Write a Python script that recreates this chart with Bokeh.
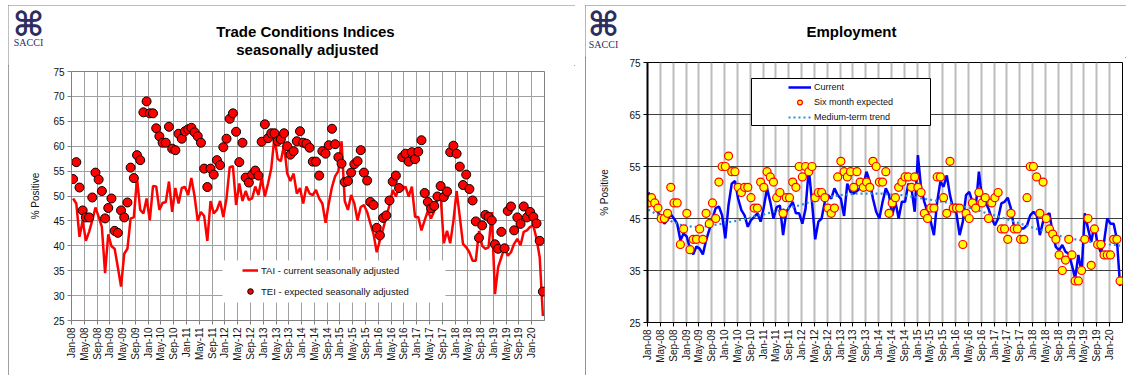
import numpy as np
from bokeh.plotting import figure
from bokeh.layouts import row, column
from bokeh.models import Range1d, FixedTicker, Legend, LegendItem, Label, BoxAnnotation
from bokeh.embed import file_html
from bokeh.resources import INLINE

# ---------------- data ----------------
tick_labels = ["Jan-08", "May-08", "Sep-08", "Jan-09", "May-09", "Sep-09", "Jan-10", "May-10",
               "Sep-10", "Jan-11", "May-11", "Sep-11", "Jan-12", "May-12", "Sep-12", "Jan-13",
               "May-13", "Sep-13", "Jan-14", "May-14", "Sep-14", "Jan-15", "May-15", "Sep-15",
               "Jan-16", "May-16", "Sep-16", "Jan-17", "May-17", "Sep-17", "Jan-18", "May-18",
               "Sep-18", "Jan-19", "May-19", "Sep-19", "Jan-20"]

# Trade Activity Index (current, seasonally adjusted), Jan-08 .. Apr-20
tai = [49.5, 48.5, 41.8, 45.1, 41.0, 42.8, 45.1, 47.7, 45.8, 43.8,
       34.5, 42.3, 39.9, 39.4, 35.7, 31.8, 38.4, 39.4, 45.5, 45.7,
       53.6, 47.2, 46.5, 49.5, 45.1, 52.0, 51.9, 47.2, 48.6, 48.8,
       52.9, 46.8, 51.6, 48.5, 51.6, 51.8, 50.2, 53.6, 50.0, 45.0,
       46.8, 46.0, 41.0, 49.0, 46.5, 47.2, 49.0, 45.8, 49.5, 55.8,
       56.0, 48.2, 52.5, 49.0, 51.0, 49.2, 49.5, 51.9, 50.2, 53.6,
       49.9, 52.5, 55.5, 61.8, 57.5, 57.0, 60.3, 54.5, 53.0, 54.5,
       50.5, 51.6, 48.5, 51.9, 50.5, 50.2, 51.2, 49.5, 48.5, 44.6,
       48.5, 51.8, 54.0, 55.0, 61.0, 49.0, 47.2, 50.2, 48.5, 45.1,
       47.8, 48.2, 46.8, 44.5, 42.4, 38.7, 41.1, 43.4, 45.8, 48.2,
       51.2, 49.9, 51.9, 51.2, 51.9, 49.9, 51.9, 45.8, 45.8, 43.1,
       45.1, 47.0, 45.5, 47.0, 49.2, 50.0, 40.5, 43.0, 40.5, 45.0,
       51.0, 45.8, 40.4, 39.7, 38.7, 37.0, 37.0, 43.0, 40.0, 39.4,
       39.7, 46.8, 30.3, 35.7, 37.7, 39.7, 38.0, 38.7, 40.4, 41.4,
       40.1, 42.8, 43.1, 43.8, 44.1, 41.4, 37.7, 25.9]

# Trade Expectations Index (expected, seasonally adjusted)
tei = [53.4, 56.8, 51.7, 47.1, 45.7, 45.7, 49.7, 54.7, 53.3, 51.0,
       45.5, 47.6, 49.5, 43.0, 42.6, 47.1, 45.7, 48.7, 55.7, 53.6,
       58.2, 57.2, 66.8, 69.0, 66.6, 66.6, 63.6, 62.0, 60.7, 60.7,
       63.9, 59.5, 59.2, 62.5, 61.5, 63.0, 63.4, 63.7, 62.8, 62.0,
       60.7, 55.5, 51.8, 55.5, 54.3, 57.2, 56.2, 59.8, 61.5, 65.5,
       66.6, 62.9, 56.8, 60.7, 53.7, 52.7, 54.3, 55.1, 54.1, 60.9,
       64.4, 61.6, 62.6, 62.6, 61.0, 61.4, 62.6, 60.0, 58.3, 59.0,
       61.0, 63.0, 60.7, 60.5, 59.7, 56.9, 56.9, 54.1, 59.0, 58.5,
       60.2, 63.5, 60.4, 57.8, 56.5, 52.8, 53.0, 54.7, 56.4, 57.0,
       59.2, 54.7, 53.1, 48.8, 48.2, 43.6, 42.1, 45.6, 46.1, 49.1,
       52.9, 54.1, 51.6, 57.8, 58.5, 56.9, 58.8, 57.4, 58.9, 61.2,
       50.6, 48.8, 47.5, 48.0, 49.9, 52.0, 49.8, 50.9, 58.8, 60.1,
       58.5, 55.9, 52.2, 54.3, 51.4, 49.1, 44.9, 41.6, 44.1, 46.2,
       45.8, 45.1, 40.3, 39.4, 42.8, 39.5, 47.0, 47.9, 43.1, 45.7,
       44.4, 47.9, 45.7, 46.8, 45.8, 44.5, 41.0, 30.8]

# Employment - current
emp_current = [50.0, 49.0, 47.2, 46.2, 45.0, 44.0, 44.7, 45.8, 45.0, 44.0,
               40.8, 42.1, 41.5, 39.2, 38.1, 39.6, 39.2, 38.1, 40.8, 42.8,
               45.0, 47.0, 47.3, 45.6, 41.2, 47.6, 51.7, 52.2, 48.8, 46.6,
               45.6, 43.4, 44.7, 45.3, 46.0, 44.4, 47.2, 50.8, 48.2, 45.0,
               47.2, 47.5, 41.8, 46.3, 47.2, 48.2, 46.0, 46.0, 44.0, 46.9,
               54.6, 48.2, 41.0, 44.4, 45.0, 48.2, 49.5, 48.8, 50.8, 49.5,
               48.8, 45.5, 51.7, 50.1, 49.8, 50.3, 50.8, 51.4, 54.0, 52.1,
               48.8, 46.3, 45.0, 48.2, 50.8, 49.5, 45.6, 48.2, 45.0, 48.2,
               48.2, 51.7, 50.8, 46.3, 57.2, 50.8, 48.2, 46.3, 44.4, 41.8,
               48.2, 52.1, 51.1, 53.3, 49.5, 46.9, 46.0, 41.8, 44.4, 49.5,
               50.1, 48.2, 46.9, 54.0, 48.8, 48.2, 46.9, 45.0, 43.7, 45.0,
               47.9, 48.2, 49.0, 46.9, 43.1, 43.1, 43.1, 43.1, 43.7, 45.6,
               46.3, 45.6, 41.8, 44.4, 45.6, 46.0, 42.0, 39.5, 38.9, 39.9,
               38.6, 38.2, 36.0, 33.5, 38.0, 34.7, 46.0, 43.1, 40.5, 43.7,
               40.0, 38.5, 40.5, 45.0, 44.0, 44.0, 41.0, 32.0]

# Employment - six month expected
emp_expected = [48, 49, 48, 47, 45, 45, 46, 51, 48, 48,
                40, 43, 46, 39, 41, 41, 43, 41, 46, 44,
                48, 45, 52, 55, 55, 57, 54, 54, 51, 50,
                51, 51, 49, 47, 47, 52, 51, 54, 53, 52,
                49, 50, 46, 49, 49, 52, 51, 55, 53, 55,
                54, 55, 49, 50, 50, 49, 47, 46, 47, 53,
                56, 54, 53, 54, 51, 54, 52, 51, 52, 51,
                56, 55, 52, 52, 54, 46, 48, 49, 51, 52,
                53, 53, 51, 53, 51, 50, 46, 45, 47, 47,
                53, 53, 49, 46, 56, 47, 47, 47, 40, 46,
                45, 48, 47, 50, 48, 49, 45, 48, 49, 50,
                43, 43, 41, 46, 43, 43, 41, 41, 49, 55,
                55, 53, 46, 52, 45, 43, 42, 41, 38, 35,
                37, 41, 38, 33, 33, 35, 41, 45, 36, 43,
                40, 40, 38, 38, 38, 41, 41, 33]

# Employment - medium-term trend
emp_trend = [46.7, 46.4, 46.0, 45.7, 45.4, 45.1, 44.8, 44.5, 44.2, 44.0,
             43.8, 43.7, 43.6, 43.5, 43.4, 43.4, 43.4, 43.4, 43.5, 43.6,
             43.7, 43.8, 43.9, 44.0, 44.2, 44.3, 44.4, 44.5, 44.6, 44.8,
             44.9, 45.0, 45.2, 45.4, 45.5, 45.7, 45.8, 46.0, 46.1, 46.3,
             46.4, 46.6, 46.7, 46.9, 47.0, 47.2, 47.4, 47.5, 47.7, 47.9,
             48.1, 48.3, 48.5, 48.7, 48.8, 49.0, 49.1, 49.2, 49.3, 49.4,
             49.5, 49.6, 49.6, 49.7, 49.7, 49.8, 49.8, 49.8, 49.8, 49.8,
             49.8, 49.8, 49.8, 49.8, 49.7, 49.7, 49.6, 49.6, 49.5, 49.5,
             49.4, 49.3, 49.2, 49.1, 49.0, 48.9, 48.8, 48.7, 48.6, 48.5,
             48.4, 48.3, 48.2, 48.1, 48.0, 47.9, 47.7, 47.6, 47.4, 47.2,
             47.1, 46.9, 46.7, 46.5, 46.3, 46.1, 45.9, 45.7, 45.6, 45.4,
             45.2, 45.0, 44.8, 44.6, 44.4, 44.2, 44.0, 43.8, 43.6, 43.4,
             43.2, 43.0, 42.8, 42.6, 42.4, 42.2, 42.0, 41.8, 41.7, 41.5,
             41.4, 41.2, 41.1, 41.0, 40.9, 40.8, 40.7, 40.6, 40.5, 40.4,
             40.3, 40.2, 40.1, 40.0, 40.0, 39.9, 39.9, 39.8]

for s in (tai, tei, emp_current, emp_expected, emp_trend):
    assert len(s) == 148, len(s)

n = len(tai)
idx = np.arange(n)
tick_pos = [4.0 * i for i in range(len(tick_labels))]
overrides = {t: lab for t, lab in zip(tick_pos, tick_labels)}

FONT = "Liberation Sans"
NAVY = "#2e2d62"


def style_axes(p, yticks, grid_h_color, grid_h_width, grid_v_color, grid_v_width,
               axis_color, outline_color, ylabel_standoff):
    p.xaxis.ticker = FixedTicker(ticks=tick_pos)
    p.xaxis.major_label_overrides = overrides
    p.xaxis.major_label_orientation = np.pi / 2
    p.yaxis.ticker = FixedTicker(ticks=yticks)
    p.xgrid.ticker = FixedTicker(ticks=tick_pos)
    p.ygrid.ticker = FixedTicker(ticks=yticks)
    p.xgrid.grid_line_color = grid_v_color
    p.xgrid.grid_line_width = grid_v_width
    p.ygrid.grid_line_color = grid_h_color
    p.ygrid.grid_line_width = grid_h_width
    for ax in (p.xaxis, p.yaxis):
        ax.minor_tick_line_color = None
        ax.major_tick_out = 4
        ax.major_tick_in = 0
        ax.major_tick_line_color = axis_color
        ax.axis_line_color = axis_color
        ax.major_label_text_font = FONT
        ax.major_label_text_font_size = "10px"
        ax.major_label_text_color = "#111111"
        ax.major_label_standoff = 3
    p.yaxis.axis_label = "% Positive"
    p.yaxis.axis_label_text_font = FONT
    p.yaxis.axis_label_text_font_size = "10px"
    p.yaxis.axis_label_text_font_style = "normal"
    p.yaxis.axis_label_text_color = "#111111"
    p.yaxis.axis_label_standoff = ylabel_standoff
    p.outline_line_color = outline_color
    p.outline_line_width = 1
    p.background_fill_color = "white"
    p.border_fill_color = "white"


def header(width, height, titles, logo_xy, sacci_xy):
    h = figure(width=width, height=height, x_range=Range1d(0, width), y_range=Range1d(height, 0),
               output_backend="svg", toolbar_location=None, title=None,
               x_axis_location=None, y_axis_location=None,
               min_border=0, min_border_left=0, min_border_right=0,
               min_border_top=0, min_border_bottom=0, frame_align=False)
    h.grid.visible = False
    h.outline_line_color = None
    h.background_fill_color = "white"
    h.border_fill_color = "white"
    for (tx, ty, txt) in titles:
        h.add_layout(Label(x=tx, y=ty, text=txt, text_font=FONT, text_font_size="15px",
                           text_font_style="bold", text_color="#000000",
                           text_align="center", text_baseline="middle"))
    h.add_layout(Label(x=logo_xy[0], y=logo_xy[1], text="\u2318", text_font="DejaVu Sans",
                       text_font_size="34px", text_font_style="bold", text_color=NAVY,
                       text_align="center", text_baseline="middle"))
    h.add_layout(Label(x=sacci_xy[0], y=sacci_xy[1], text="SACCI", text_font="Liberation Serif",
                       text_font_size="10px", text_color=NAVY,
                       text_align="center", text_baseline="middle"))
    return h


# ---------------- left panel: Trade Conditions ----------------
h1 = header(567, 60, [(297, 26, "Trade Conditions Indices"), (299, 44, "seasonally adjusted")],
            (20, 18), (20, 37))

p1 = figure(width=567, height=310, x_range=Range1d(0, 148), y_range=Range1d(25, 75),
            output_backend="svg", toolbar_location=None, title=None, frame_align=False,
            min_border_left=63, min_border_right=31, min_border_top=6, min_border_bottom=55)
style_axes(p1, list(range(25, 76, 5)), "#a0a0a0", 1, "#a0a0a0", 1, "#808080", "#808080", 9)

x1 = idx + 0.5
r_tai = p1.line(x1, tai, line_color="#ff0000", line_width=2.5)
r_tei = p1.scatter(x1, tei, size=9, fill_color="#ff0000", line_color="#000000", line_width=1)

p1.add_layout(BoxAnnotation(left=151, right=374, bottom=18, top=60,
                            left_units="screen", right_units="screen",
                            bottom_units="screen", top_units="screen",
                            fill_color="white", fill_alpha=1.0, line_color=None))
leg1 = Legend(items=[LegendItem(label="TAI - current seasonally adjusted", renderers=[r_tai]),
                     LegendItem(label="TEI - expected seasonally adjusted", renderers=[r_tei])],
              location=(171, 22), padding=0, spacing=7, margin=0,
              glyph_width=16, glyph_height=14, label_height=14, label_standoff=3,
              label_text_font=FONT, label_text_font_size="9.5px", label_text_color="#111111",
              background_fill_alpha=0, border_line_alpha=0)
p1.add_layout(leg1)

panel1 = column(h1, p1, spacing=0, margin=(5, 0, 0, 8),
                styles={"outline": "1px solid #7f7f7f", "outline-offset": "-1px"})

# ---------------- right panel: Employment ----------------
h2 = header(541, 52, [(266, 26, "Employment")], (18, 18), (18, 39))

p2 = figure(width=541, height=318, x_range=Range1d(0, 148), y_range=Range1d(25, 75),
            output_backend="svg", toolbar_location=None, title=None, frame_align=False,
            min_border_left=62, min_border_right=4, min_border_top=5, min_border_bottom=53)
style_axes(p2, list(range(25, 76, 10)), "#404040", 1, "#bdbdbd", 2, "#000000", "#000000", 16)
p2.yaxis.axis_line_width = 2

x2 = idx + 0.25
r_cur = p2.line(x2, emp_current, line_color="#0000ff", line_width=2.5)
r_trend = p2.line(x2, emp_trend, line_color="#2a8fd4", line_width=2.2, line_dash="2 3")
r_exp = p2.scatter(x2, emp_expected, size=8, fill_color="#ffff00", line_color="#ff0000",
                   line_width=1.2)

p2.add_layout(BoxAnnotation(left=104, right=283, bottom=197, top=244,
                            left_units="screen", right_units="screen",
                            bottom_units="screen", top_units="screen",
                            fill_color="white", fill_alpha=1.0,
                            line_color="#000000", line_width=1, line_alpha=1.0))
leg2 = Legend(items=[LegendItem(label="Current", renderers=[r_cur]),
                     LegendItem(label="Six month expected", renderers=[r_exp]),
                     LegendItem(label="Medium-term trend", renderers=[r_trend])],
              location=(141, 199), padding=0, spacing=3, margin=0,
              glyph_width=23, glyph_height=12, label_height=12, label_standoff=3,
              label_text_font=FONT, label_text_font_size="9px", label_text_color="#111111",
              background_fill_alpha=0, border_line_alpha=0)
p2.add_layout(leg2)

panel2 = column(h2, p2, spacing=0, margin=(5, 0, 0, 0),
                styles={"outline": "1px solid #6f6f6f", "outline-offset": "-1px"})

layout = row(panel1, panel2, spacing=10)
open("out.html", "w").write(file_html(layout, INLINE))
